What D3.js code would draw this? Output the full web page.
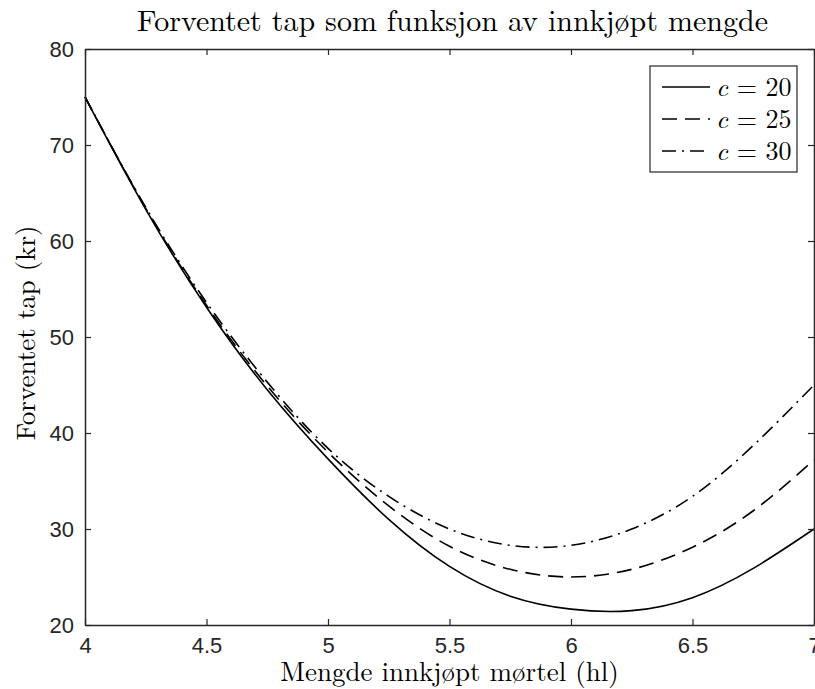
<!DOCTYPE html>
<html>
<head>
<meta charset="utf-8">
<script src="https://cdn.jsdelivr.net/npm/d3@7"></script>
<style>
  body { margin: 0; background: #fff; }
  svg { display: block; }
</style>
</head>
<body>
<svg id="chart" width="815" height="689"></svg>
<script>
// data
var mengde = [4, 4.25, 4.5, 4.75, 5, 5.25, 5.5, 5.75, 6, 6.25, 6.5, 6.75, 7];
var tapC20 = [75, 63.3, 53.1, 44.5, 37.3, 31.0, 26.1, 23.0, 21.65, 21.5, 22.85, 25.9, 30.0];
var tapC25 = [75, 63.4, 53.3, 44.9, 38.0, 32.4, 28.2, 25.8, 25.0, 25.8, 28.1, 31.9, 37.2];
var tapC30 = [75, 63.5, 53.6, 45.3, 38.4, 33.4, 30.0, 28.3, 28.3, 30.0, 33.4, 38.7, 45.0];
var seriesNames = ["20", "25", "30"];
var xTicks = [4, 4.5, 5, 5.5, 6, 6.5, 7];
var yTicks = [20, 30, 40, 50, 60, 70, 80];

var AXIS_COLOR = "#262626";
var SERIF = "'Latin Modern Roman', 'CMU Serif', 'Liberation Serif', serif";
var SANS = "'Liberation Sans', Arial, Helvetica, sans-serif";

// plot box (don't call it "top", that's window.top)
var pLeft = 85, pRight = 814, pTop = 49, pBottom = 625;

var svg = d3.select("#chart");

var x = d3.scaleLinear().domain([4, 7]).range([pLeft, pRight]);
var y = d3.scaleLinear().domain([20, 80]).range([pBottom, pTop]);

var series = [
    { name: seriesNames[0], values: tapC20, dash: null },
    { name: seriesNames[1], values: tapC25, dash: "15,8" },
    { name: seriesNames[2], values: tapC30, dash: "14,6,2,6" }
];

var line = d3.line()
    .x(function (d) { return x(d[0]); })
    .y(function (d) { return y(d[1]); })
    .curve(d3.curveNatural);

// curves
svg.append("g").attr("id", "lines").selectAll("path")
    .data(series)
    .enter().append("path")
    .attr("d", function (s) { return line(mengde.map(function (m, i) { return [m, s.values[i]]; })); })
    .style("fill", "none")
    .style("stroke", "#000")
    .style("stroke-width", 1.6)
    .style("stroke-dasharray", function (s) { return s.dash; });

// axes, ticks pointing inward on all four sides
var xAxisB = d3.axisBottom(x).tickValues(xTicks).tickSizeInner(-6).tickSizeOuter(0).tickPadding(12)
    .tickFormat(function (d) { return d3.format("")(d); });
var xAxisT = d3.axisTop(x).tickValues(xTicks).tickSizeInner(-6).tickSizeOuter(0).tickFormat("");
var yAxisL = d3.axisLeft(y).tickValues(yTicks).tickSizeInner(-6).tickSizeOuter(0).tickPadding(11);
var yAxisR = d3.axisRight(y).tickValues(yTicks).tickSizeInner(-6).tickSizeOuter(0).tickFormat("");

function styleAxis(g) {
    g.selectAll("path.domain").style("stroke", AXIS_COLOR).style("stroke-width", 1.5);
    g.selectAll(".tick line").style("stroke", AXIS_COLOR).style("stroke-width", 1.2);
    g.selectAll(".tick text")
        .style("font-family", SANS)
        .style("font-size", "22px")
        .style("fill", AXIS_COLOR);
}

svg.append("g").attr("transform", "translate(0," + pBottom + ")").call(xAxisB).call(styleAxis);
svg.append("g").attr("transform", "translate(0," + pTop + ")").call(xAxisT).call(styleAxis);
svg.append("g").attr("transform", "translate(" + pLeft + ",0)").call(yAxisL).call(styleAxis);
svg.append("g").attr("transform", "translate(" + pRight + ",0)").call(yAxisR).call(styleAxis);

// titles
svg.append("text")
    .attr("x", (pLeft + pRight) / 2 + 3).attr("y", 31)
    .attr("text-anchor", "middle")
    .style("font-family", SERIF).style("font-size", "30px")
    .text("Forventet tap som funksjon av innkjøpt mengde");

svg.append("text")
    .attr("x", (pLeft + pRight) / 2).attr("y", 681)
    .attr("text-anchor", "middle")
    .style("font-family", SERIF).style("font-size", "27px")
    .text("Mengde innkjøpt mørtel (hl)");

svg.append("text")
    .attr("transform", "translate(35," + ((pTop + pBottom) / 2 - 4) + ") rotate(-90)")
    .attr("text-anchor", "middle")
    .style("font-family", SERIF).style("font-size", "27px")
    .text("Forventet tap (kr)");

// legend
var legend = svg.append("g").attr("id", "legend");
legend.append("rect")
    .attr("x", 650).attr("y", 66).attr("width", 147).attr("height", 106)
    .style("fill", "#fff").style("stroke", AXIS_COLOR).style("stroke-width", 1.2);

var rows = legend.selectAll("g.row")
    .data(series)
    .enter().append("g")
    .attr("class", "row")
    .attr("transform", function (d, i) { return "translate(0," + (87 + i * 32) + ")"; });

rows.append("line")
    .attr("x1", 662).attr("x2", 710).attr("y1", 0).attr("y2", 0)
    .style("stroke", "#000").style("stroke-width", 1.6)
    .style("stroke-dasharray", function (s) { return s.dash; });

var lab = rows.append("text")
    .attr("x", 716).attr("y", 9)
    .style("font-family", SERIF).style("font-size", "26px");
lab.append("tspan").style("font-style", "italic").text("c");
lab.append("tspan").text(" = ");
lab.append("tspan").text(function (s) { return s.name; });
</script>
</body>
</html>
